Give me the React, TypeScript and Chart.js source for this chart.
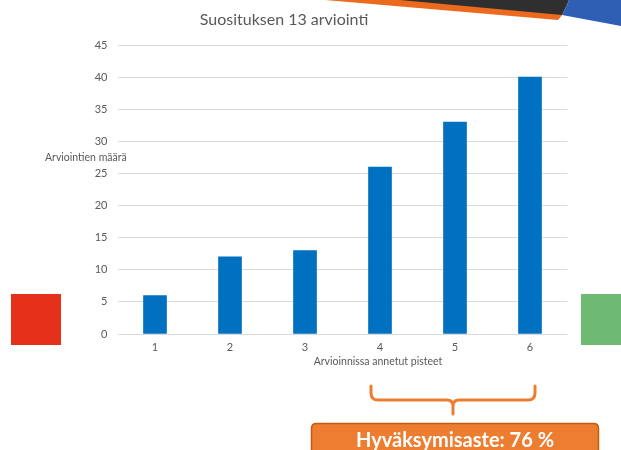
import React, { useEffect, useRef } from "react";
import { Chart, registerables } from "chart.js";

Chart.register(...registerables);

const categories = ["1", "2", "3", "4", "5", "6"];
const counts = [6, 12, 13, 26, 33, 40];
const chartTitle = "Suosituksen 13 arviointi";
const yTitle = "Arviointien määrä";
const xTitle = "Arvioinnissa annetut pisteet";
const badgeText = "Hyväksymisaste: 76 %";

const FONT = "Lato, 'Liberation Sans', sans-serif";
const GRAY = "#595959";

function roundRect(ctx: CanvasRenderingContext2D, x: number, y: number, w: number, h: number, r: number) {
  ctx.beginPath();
  ctx.moveTo(x + r, y);
  ctx.lineTo(x + w - r, y);
  ctx.quadraticCurveTo(x + w, y, x + w, y + r);
  ctx.lineTo(x + w, y + h - r);
  ctx.quadraticCurveTo(x + w, y + h, x + w - r, y + h);
  ctx.lineTo(x + r, y + h);
  ctx.quadraticCurveTo(x, y + h, x, y + h - r);
  ctx.lineTo(x, y + r);
  ctx.quadraticCurveTo(x, y, x + r, y);
  ctx.closePath();
}

const decorPlugin = {
  id: "decor",
  beforeDraw(chart: any) {
    const ctx: CanvasRenderingContext2D = chart.ctx;
    ctx.save();
    ctx.fillStyle = "#ffffff";
    ctx.fillRect(0, 0, chart.width, chart.height);
    // top-right stripes
    ctx.fillStyle = "#EB6A1E";
    ctx.beginPath();
    ctx.moveTo(325, 0);
    ctx.lineTo(420, 0);
    ctx.lineTo(563, 14);
    ctx.lineTo(558, 20);
    ctx.closePath();
    ctx.fill();
    ctx.fillStyle = "#2F2F2F";
    ctx.beginPath();
    ctx.moveTo(400, 0);
    ctx.lineTo(569, 0);
    ctx.lineTo(567, 5);
    ctx.lineTo(562, 15);
    ctx.closePath();
    ctx.fill();
    ctx.fillStyle = "#2E5FB5";
    ctx.beginPath();
    ctx.moveTo(569, 0);
    ctx.lineTo(621, 0);
    ctx.lineTo(621, 26);
    ctx.lineTo(562, 15);
    ctx.lineTo(567, 5);
    ctx.closePath();
    ctx.fill();
    // side squares
    ctx.fillStyle = "#E5311A";
    ctx.fillRect(11, 294, 50, 51);
    ctx.fillStyle = "#6FBA73";
    ctx.fillRect(581, 294, 40, 51);
    ctx.restore();
  },
  afterDraw(chart: any) {
    const ctx: CanvasRenderingContext2D = chart.ctx;
    ctx.save();
    // title
    ctx.fillStyle = GRAY;
    ctx.font = `16px ${FONT}`;
    ctx.textAlign = "center";
    ctx.textBaseline = "middle";
    ctx.fillText(chartTitle, 284, 20);
    // y title
    ctx.font = `10.5px ${FONT}`;
    ctx.textAlign = "left";
    ctx.fillText(yTitle, 45, 158);
    // x title
    ctx.textAlign = "center";
    ctx.fillText(xTitle, 378, 362);
    // brace
    const xs = chart.scales.x;
    const left = xs.getPixelForValue(3) - 9;
    const right = xs.getPixelForValue(5) + 5;
    const mid = (left + right) / 2;
    ctx.strokeStyle = "#ED7D31";
    ctx.lineWidth = 3;
    ctx.lineCap = "round";
    ctx.beginPath();
    ctx.moveTo(left, 386);
    ctx.lineTo(left, 393);
    ctx.quadraticCurveTo(left, 400, left + 7, 400);
    ctx.lineTo(mid - 6, 400);
    ctx.quadraticCurveTo(mid, 400, mid, 406);
    ctx.lineTo(mid, 414);
    ctx.moveTo(mid, 406);
    ctx.quadraticCurveTo(mid, 400, mid + 6, 400);
    ctx.lineTo(right - 7, 400);
    ctx.quadraticCurveTo(right, 400, right, 393);
    ctx.lineTo(right, 386);
    ctx.stroke();
    // badge
    roundRect(ctx, 311.5, 423.5, 287, 40, 5);
    ctx.fillStyle = "#ED7D31";
    ctx.fill();
    ctx.strokeStyle = "#C55A11";
    ctx.lineWidth = 1.5;
    ctx.stroke();
    ctx.fillStyle = "#ffffff";
    ctx.font = `bold 20px ${FONT}`;
    ctx.textAlign = "center";
    ctx.textBaseline = "alphabetic";
    ctx.fillText(badgeText, 455, 447);
    ctx.restore();
  },
};

export default function App() {
  const ref = useRef<HTMLCanvasElement | null>(null);
  useEffect(() => {
    if (!ref.current) return;
    const chart = new Chart(ref.current, {
      type: "bar",
      data: {
        labels: categories,
        datasets: [
          {
            data: counts,
            backgroundColor: "#0070C0",
            borderWidth: 0,
            barThickness: 23,
          },
        ],
      },
      options: {
        animation: false,
        responsive: false,
        maintainAspectRatio: false,
        layout: { padding: { top: 45, right: 53.5, bottom: 0, left: 0 } },
        plugins: {
          legend: { display: false },
          title: { display: false },
          tooltip: { enabled: false },
        },
        scales: {
          x: {
            grid: { display: false, drawTicks: false },
            border: { display: false },
            ticks: { color: GRAY, font: { family: FONT, size: 11 }, padding: 7 },
            afterFit: (s: any) => {
              s.height = 116;
            },
          },
          y: {
            min: 0,
            max: 45,
            grid: { color: "#D9D9D9", lineWidth: 1, drawTicks: false },
            border: { display: false },
            ticks: { stepSize: 5, color: GRAY, font: { family: FONT, size: 11 }, padding: 10 },
            afterFit: (s: any) => {
              s.width = 117.5;
            },
          },
        },
      },
      plugins: [decorPlugin],
    });
    return () => chart.destroy();
  }, []);
  return (
    <div style={{ position: "fixed", left: 0, top: 0, width: 621, height: 450 }}>
      <canvas ref={ref} width={621} height={450} style={{ width: 621, height: 450 }} />
    </div>
  );
}
